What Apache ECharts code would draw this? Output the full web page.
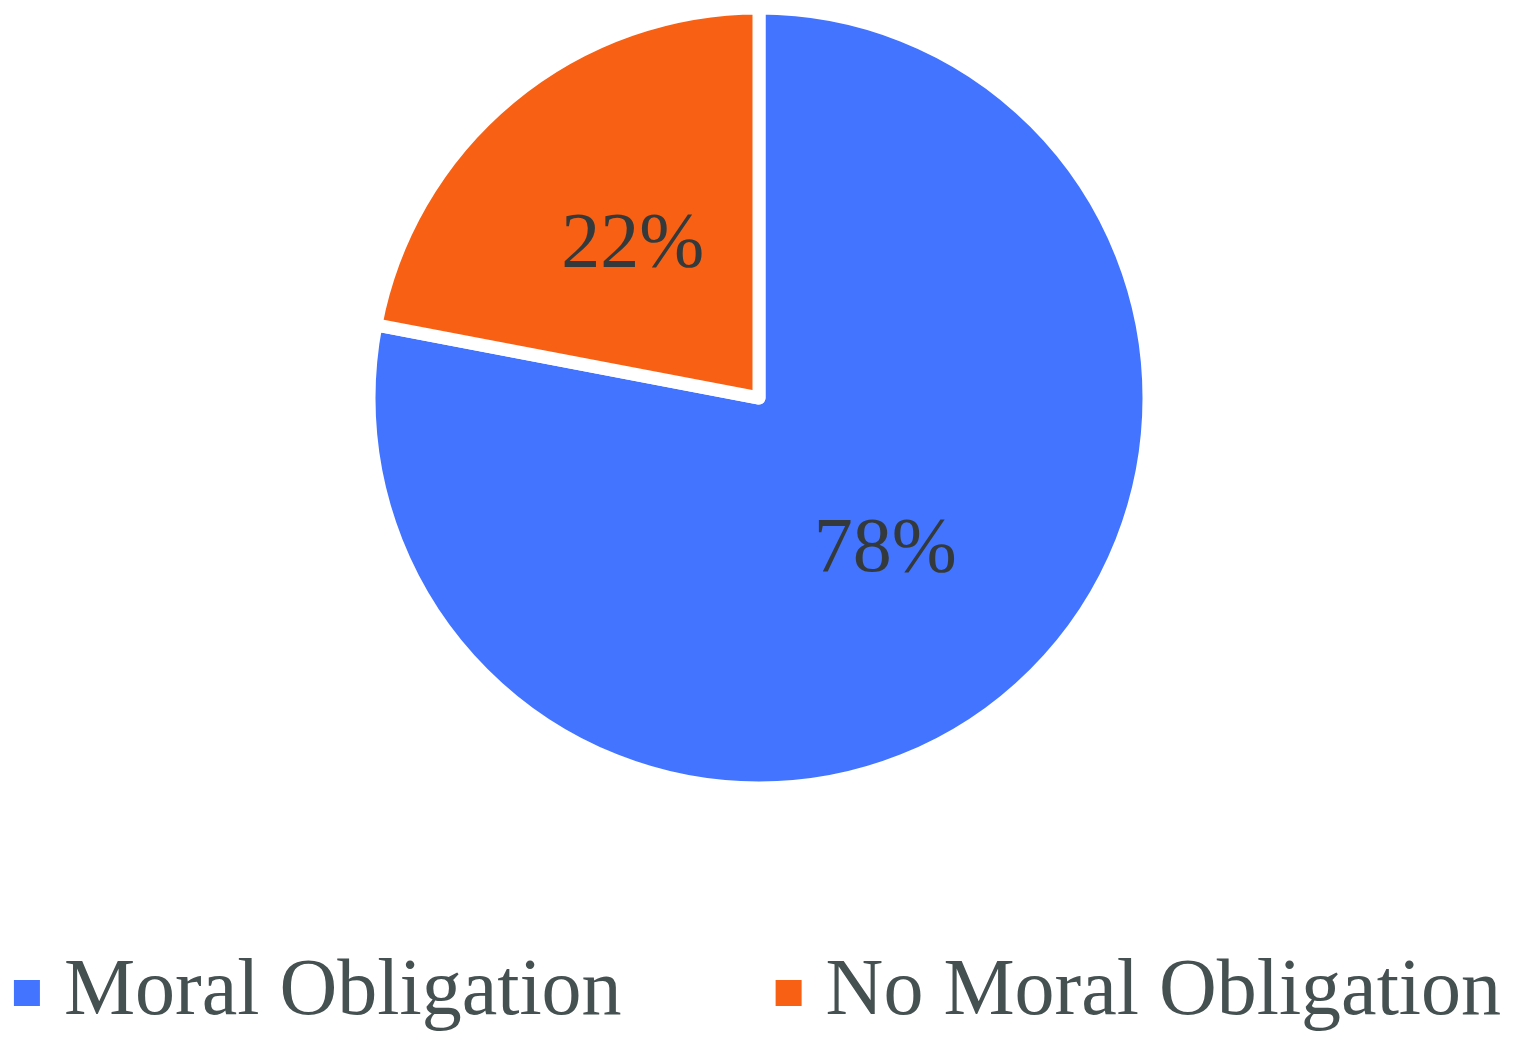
<!DOCTYPE html>
<html>
<head>
<meta charset="utf-8">
<script src="https://cdn.jsdelivr.net/npm/echarts@6/dist/echarts.min.js"></script>
<style>
html,body{margin:0;padding:0;background:#fff;}
#chart{width:1513px;height:1040px;}
</style>
</head>
<body>
<div id="chart"></div>
<script>
const categories = ["Moral Obligation", "No Moral Obligation"];
const values = [78, 22];
const colors = ["#4274FF", "#F86113"];

const chart = echarts.init(document.getElementById('chart'), null, {renderer: 'canvas'});
const fontFam = '"Liberation Serif", "DejaVu Serif", serif';
chart.setOption({
  animation: false,
  backgroundColor: '#ffffff',
  legend: {
    data: categories,
    bottom: 2,
    left: 'center',
    icon: 'rect',
    itemWidth: 28,
    itemHeight: 28,
    itemGap: 152,
    textStyle: {
      fontFamily: fontFam,
      fontSize: 80,
      color: '#455050',
      padding: [0, 0, 0, 18]
    }
  },
  series: [{
    type: 'pie',
    center: [759, 398],
    radius: 390,
    startAngle: 90,
    clockwise: true,
    data: categories.map((c, i) => ({name: c, value: values[i], itemStyle: {color: colors[i]}})),
    itemStyle: {borderColor: '#ffffff', borderWidth: 13},
    label: {
      show: true,
      position: 'inside',
      formatter: '{d}%',
      fontFamily: fontFam,
      fontSize: 78,
      color: '#343a3c'
    },
    labelLine: {show: false},
    emphasis: {disabled: true}
  }]
});
</script>
</body>
</html>
